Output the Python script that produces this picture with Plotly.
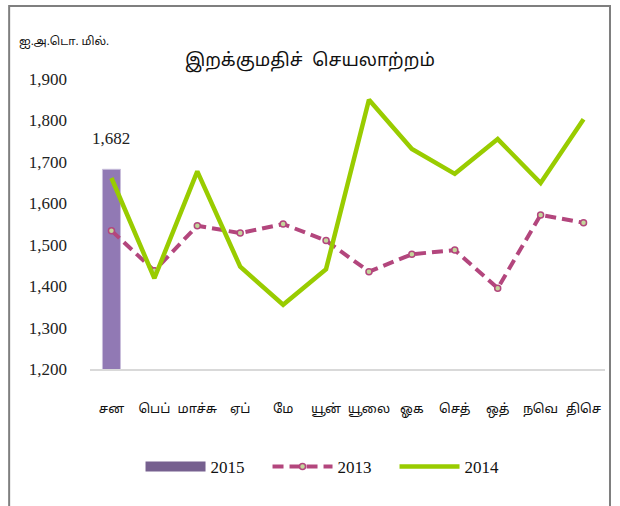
import plotly.graph_objects as go

months = ["சன", "பெப்", "மாச்சு", "ஏப்", "மே", "யூன்", "யூலை", "ஓக", "செத்", "ஒத்", "நவெ", "திசெ"]
bar_2015 = [1682]
line_2013 = [1534, 1437, 1546, 1528, 1550, 1510, 1435, 1477, 1487, 1395, 1572, 1553]
line_2014 = [1661, 1419, 1677, 1447, 1355, 1441, 1850, 1731, 1671, 1755, 1649, 1803]
y_ticks = [1200, 1300, 1400, 1500, 1600, 1700, 1800, 1900]

serif = "Liberation Serif"
tamil = "Latha, Noto Sans Tamil, Lohit Tamil, Noto Sans, sans-serif"

bar_color = "#9179b4"

fig = go.Figure()
fig.add_trace(go.Bar(
    x=months[:len(bar_2015)], y=bar_2015, name="2015", showlegend=False,
    marker=dict(color=bar_color, line=dict(color="#c9bedb", width=1)),
    width=0.42,
))
# legend entry for the bar series (wide swatch like the original)
fig.add_trace(go.Scatter(
    x=[None], y=[None], name="2015", mode="lines",
    line=dict(color="#76608f", width=12),
))
fig.add_trace(go.Scatter(
    x=months, y=line_2013, name="2013", mode="lines+markers",
    line=dict(color="#b3467d", width=4, dash="11px,6px"),
    marker=dict(size=6, color="#c3d69b", line=dict(color="#b3467d", width=1.5)),
))
fig.add_trace(go.Scatter(
    x=months, y=line_2014, name="2014", mode="lines",
    line=dict(color="#99cc00", width=4.5),
))

fig.add_annotation(
    x=months[0], y=bar_2015[0], text=f"{bar_2015[0]:,}", showarrow=False,
    yshift=31, font=dict(family=serif, size=17, color="#222"),
)
fig.add_annotation(
    xref="paper", yref="paper", x=-0.142, y=1.128, xanchor="left", yanchor="middle",
    text="ஐ.அ.டொ. மில்.", showarrow=False, font=dict(family=tamil, size=11.5, color="#111"),
)

fig.add_shape(type="rect", xref="paper", yref="paper", x0=-0.157, x1=1.0097, y0=-0.6, y1=1.2517,
              line=dict(color="#7f7f7f", width=2), fillcolor="rgba(0,0,0,0)", layer="below")

fig.update_layout(
    width=620, height=506,
    margin=dict(l=90, r=15, t=79, b=137),
    paper_bgcolor="white", plot_bgcolor="white",
    title=dict(text="இறக்குமதிச்  செயலாற்றம்", x=0.427 * 515 / 620 + 90 / 620, xanchor="center",
               y=1 - 60 / 506, yanchor="middle", font=dict(family=tamil, size=18, color="#111")),
    showlegend=True,
    legend=dict(orientation="h", x=0.468, xanchor="center", y=-0.338, yanchor="middle",
                font=dict(family=serif, size=17, color="#111"),
                itemwidth=60, entrywidth=52, entrywidthmode="pixels",
                traceorder="normal"),
    xaxis=dict(showgrid=False, showline=True, linecolor="#d9d9d9", linewidth=2,
               ticks="", tickfont=dict(family=tamil, size=13, color="#111"),
               range=[-0.5, 11.5], ticklabelstandoff=26),
    yaxis=dict(range=[1200, 1900], tickvals=y_ticks, tickformat=",",
               showgrid=False, showline=False, zeroline=False,
               tickfont=dict(family=serif, size=17, color="#222"),
               ticklabelstandoff=22),
)

fig.write_html("out.html")
